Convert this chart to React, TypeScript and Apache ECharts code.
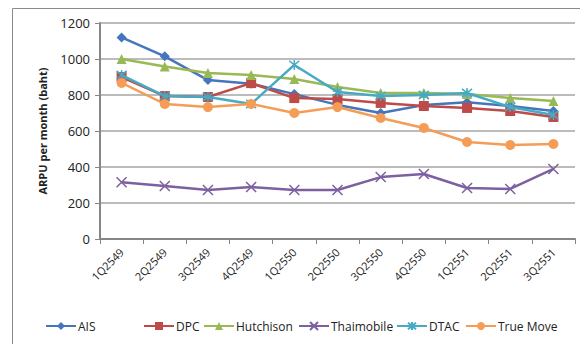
import React, { useEffect, useRef } from "react";
import * as echarts from "echarts";

const categories = ["1Q2549", "2Q2549", "3Q2549", "4Q2549", "1Q2550", "2Q2550", "3Q2550", "4Q2550", "1Q2551", "2Q2551", "3Q2551"];
const ais = [1120, 1015, 883, 863, 805, 745, 700, 744, 760, 739, 711];
const dpc = [900, 794, 789, 866, 783, 778, 756, 739, 728, 711, 678];
const hutchison = [1000, 958, 922, 911, 889, 844, 811, 811, 806, 783, 767];
const thaimobile = [315, 294, 272, 289, 272, 272, 344, 361, 283, 278, 389];
const dtac = [911, 794, 789, 750, 967, 817, 794, 800, 811, 733, 689];
const trueMove = [867, 750, 733, 750, 700, 733, 672, 617, 539, 522, 528];
const seriesNames = ["AIS", "DPC", "Hutchison", "Thaimobile", "DTAC", "True Move"];
const yTicks = { min: 0, max: 1200, interval: 200 };

const colors = ["#4576BD", "#BE4B48", "#98B954", "#7D60A0", "#46AAC5", "#F59D56"];
const xPath = "path://M0,0L10,10M10,0L0,10";
const starPath = "path://M0,0L10,10M10,0L0,10M5,-1L5,11";

export default function App() {
  const ref = useRef<HTMLDivElement>(null);
  useEffect(() => {
    const chart = echarts.init(ref.current!, null, { renderer: "svg" });
    const data = [ais, dpc, hutchison, thaimobile, dtac, trueMove];
    const symbols = ["diamond", "rect", "triangle", xPath, starPath, "circle"];
    const sizes = [10, 10, 10, 10, 10, 10];
    const series = seriesNames.map((name, i) => {
      const stroked = i === 3 || i === 4;
      return {
        name,
        type: "line",
        data: data[i],
        symbol: symbols[i],
        symbolSize: sizes[i],
        showAllSymbol: true,
        lineStyle: { color: colors[i], width: 2.5 },
        itemStyle: stroked
          ? { color: colors[i], borderColor: colors[i], borderWidth: 1.5 }
          : { color: colors[i], borderColor: colors[i], borderWidth: 0 },
        z: 2 + i,
      };
    });
    const legendLefts = [45, 143, 203, 298, 396, 465];
    const legends = seriesNames.map((name, i) => ({
      data: [name],
      left: legendLefts[i],
      top: 320,
      padding: 0,
      itemWidth: 30,
      itemHeight: 10,
      itemGap: 0,
      textStyle: { fontFamily: "Open Sans", fontSize: 12, color: "#222", padding: [0, 0, 0, -3] },
    }));
    chart.setOption({
      animation: false,
      color: colors,
      graphic: [
        {
          type: "rect",
          shape: { x: 12.5, y: 8.5, width: 600, height: 400 },
          style: { fill: "none", stroke: "#8a8a8a", lineWidth: 1 },
          silent: true,
        },
      ],
      grid: { left: 100, right: 5, top: 23, bottom: 105 },
      legend: legends,
      xAxis: {
        type: "category",
        data: categories,
        boundaryGap: true,
        axisLine: { lineStyle: { color: "#868686", width: 2 } },
        axisTick: { show: true, length: 5, lineStyle: { color: "#868686" } },
        axisLabel: { rotate: 45, margin: 11, fontFamily: "Open Sans", fontSize: 11, color: "#222" },
      },
      yAxis: {
        type: "value",
        min: yTicks.min,
        max: yTicks.max,
        interval: yTicks.interval,
        name: "ARPU per month (baht)",
        nameLocation: "middle",
        nameGap: 52,
        nameTextStyle: { fontFamily: "Open Sans", fontSize: 11, fontWeight: "bold", color: "#222" },
        axisLine: { show: true, lineStyle: { color: "#868686", width: 2 } },
        axisTick: { show: true, length: 5, lineStyle: { color: "#868686" } },
        axisLabel: { margin: 10, fontFamily: "Open Sans", fontSize: 13, color: "#222", formatter: (v: number) => String(v) },
        splitLine: { lineStyle: { color: "#a6a6a6", width: 1.5 } },
      },
      series,
    });
    return () => chart.dispose();
  }, []);
  return <div ref={ref} style={{ position: "absolute", left: 0, top: 0, width: 580, height: 344, background: "#fff" }} />;
}
